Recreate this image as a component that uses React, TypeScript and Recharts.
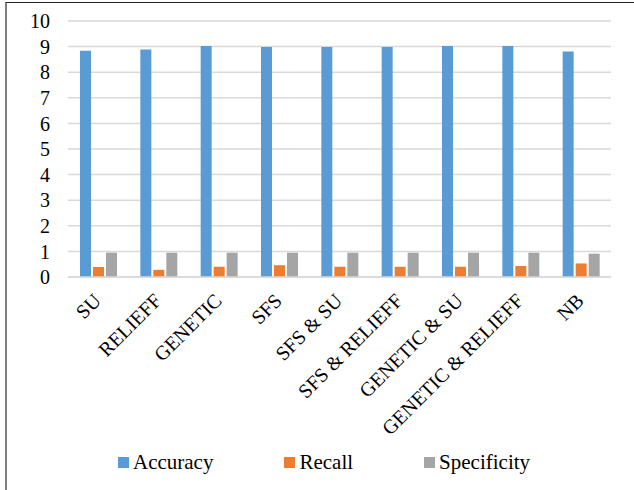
import React from 'react';
import { BarChart, Bar, XAxis, YAxis, CartesianGrid, Legend } from 'recharts';

const METHODS = [
  'SU',
  'RELIEFF',
  'GENETIC',
  'SFS',
  'SFS & SU',
  'SFS & RELIEFF',
  'GENETIC & SU',
  'GENETIC & RELIEFF',
  'NB',
];

const ACCURACY = [8.84, 8.89, 9.02, 8.98, 8.98, 8.98, 9.02, 9.02, 8.81];
const RECALL = [0.39, 0.28, 0.4, 0.46, 0.4, 0.4, 0.4, 0.43, 0.53];
const SPECIFICITY = [0.95, 0.95, 0.95, 0.95, 0.95, 0.95, 0.95, 0.95, 0.91];

const Y_TICKS = [0, 1, 2, 3, 4, 5, 6, 7, 8, 9, 10];

const SERIES = [
  { key: 'accuracy', name: 'Accuracy', color: '#5B9BD5' },
  { key: 'recall', name: 'Recall', color: '#ED7D31' },
  { key: 'specificity', name: 'Specificity', color: '#A5A5A5' },
];

const FONT = 'Liberation Serif, DejaVu Serif, serif';

const data = METHODS.map((name, i) => ({
  name,
  accuracy: ACCURACY[i],
  recall: RECALL[i],
  specificity: SPECIFICITY[i],
}));

// category labels run up-right at 45°, ending just under the bar group
function AngledTick({ x, y, payload }: any) {
  const ax = x + 4;
  const ay = y + 23;
  return (
    <text
      x={ax}
      y={ay}
      textAnchor="end"
      transform={`rotate(-45, ${ax}, ${ay})`}
      style={{ fontFamily: FONT }}
      fontSize={20}
      fill="#000"
    >
      {payload.value}
    </text>
  );
}

function LegendRow() {
  return (
    <div style={{ display: 'flex', alignItems: 'center', gap: 71, height: 24 }}>
      {SERIES.map((s) => (
        <div key={s.key} style={{ display: 'flex', alignItems: 'center', gap: 4 }}>
          <div style={{ width: 11, height: 11, backgroundColor: s.color }} />
          <span style={{ fontFamily: FONT, fontSize: 21, color: '#000', lineHeight: '24px' }}>
            {s.name}
          </span>
        </div>
      ))}
    </div>
  );
}

export default function App() {
  return (
    <div
      style={{
        position: 'fixed',
        left: 0,
        top: 0,
        width: 634,
        height: 490,
        background: '#fff',
        overflow: 'hidden',
        fontFamily: FONT,
      }}
    >
      <div
        style={{
          position: 'absolute',
          left: 5,
          top: 2,
          width: 700,
          height: 600,
          borderLeft: '2px solid #808080',
          borderTop: '1px solid #222',
        }}
      />
      <BarChart
        width={634}
        height={490}
        data={data}
        margin={{ top: 21, right: 23, left: 0, bottom: 16 }}
        barSize={11}
        barGap={2}
        style={{ position: 'absolute', left: 0, top: 0, fontFamily: FONT }}
      >
        <CartesianGrid vertical={false} stroke="#d9d9d9" strokeWidth={1.5} />
        <XAxis
          dataKey="name"
          interval={0}
          height={173}
          tickLine={false}
          tickSize={0}
          axisLine={{ stroke: '#d9d9d9', strokeWidth: 1.5 }}
          tick={<AngledTick />}
        />
        <YAxis
          width={68}
          domain={[0, 10]}
          ticks={Y_TICKS}
          interval={0}
          axisLine={false}
          tickLine={false}
          tickMargin={12}
          tick={{ fontSize: 20, fill: '#000', style: { fontFamily: FONT } }}
        />
        <Legend
          verticalAlign="bottom"
          content={<LegendRow />}
          wrapperStyle={{ left: 118, bottom: 16, width: 'auto', height: 24 }}
        />
        {SERIES.map((s) => (
          <Bar key={s.key} dataKey={s.key} name={s.name} fill={s.color} isAnimationActive={false} />
        ))}
      </BarChart>
    </div>
  );
}
